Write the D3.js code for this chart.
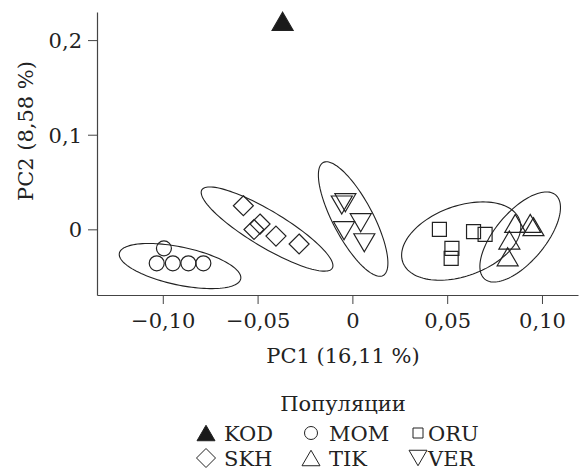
<!doctype html>
<html>
    <head>
        <meta charset="utf-8">
        <script src="https://cdn.jsdelivr.net/npm/d3@7"></script>
        <style>
            html, body {
                margin: 0;
                padding: 0;
                background: #fff;
            }
            #viz {
                position: absolute;
                top: 0px;
                left: 0px;
                width: 586px;
                height: 471px;
            }
            text {
                font-family: "DejaVu Serif", "Liberation Serif", serif;
                fill: #222;
            }
        </style>
    </head>
    <body>
        <div id="viz"></div>
        <script>
            // PCA scores
            var kodPC1 = [-0.0368];
            var kodPC2 = [0.2199];
            var momPC1 = [-0.0994, -0.1032, -0.0947, -0.0865, -0.0786];
            var momPC2 = [-0.0201, -0.0359, -0.0359, -0.0359, -0.0359];
            var oruPC1 = [0.0459, 0.0639, 0.0700, 0.0525, 0.0521];
            var oruPC2 = [0.0000, -0.0025, -0.0053, -0.0201, -0.0307];
            var skhPC1 = [-0.0575, -0.0487, -0.0519, -0.0403, -0.0281];
            var skhPC2 = [0.0249, 0.0056, -0.0002, -0.0071, -0.0155];
            var tikPC1 = [0.0859, 0.0938, 0.0955, 0.0828, 0.0819];
            var tikPC2 = [0.0063, 0.0063, 0.0028, -0.0113, -0.0290];
            var verPC1 = [-0.0037, -0.0056, 0.0044, -0.0044, 0.0063];
            var verPC2 = [0.0281, 0.0257, 0.0070, -0.0015, -0.0142];

            // confidence ellipses: centre + major / minor semi-axis vectors (data units)
            var ellipseGroups = ["MOM", "SKH", "VER", "ORU", "TIK"];
            var ellipseCenterPC1 = [-0.0909, -0.0450, 0.0004, 0.0574, 0.0885];
            var ellipseCenterPC2 = [-0.0388, 0.0003, 0.0109, -0.0124, -0.0081];
            var ellipseMajorPC1 = [0.0320, 0.0344, 0.0158, 0.0308, 0.0187];
            var ellipseMajorPC2 = [-0.0136, -0.0414, -0.0597, 0.0224, 0.0445];
            var ellipseMinorPC1 = [-0.0021, -0.0049, -0.0093, 0.0063, 0.0101];
            var ellipseMinorPC2 = [-0.0196, -0.0163, -0.0099, -0.0348, -0.0170];

            var xTicks = [-0.10, -0.05, 0, 0.05, 0.10];
            var xTickLabels = ["\u22120,10", "\u22120,05", "0", "0,05", "0,10"];
            var yTicks = [0, 0.1, 0.2];
            var yTickLabels = ["0", "0,1", "0,2"];
            var xTitle = "PC1 (16,11 %)";
            var yTitle = "PC2 (8,58 %)";
            var legendTitle = "Популяции";
            var populations = ["KOD", "MOM", "ORU", "SKH", "TIK", "VER"];

            var w = 586, h = 471;
            var fs = 21;
            var svg = d3.select("#viz").append("svg:svg")
                .attr("width", w)
                .attr("height", h);

            var x = d3.scaleLinear().domain([-0.1347, 0.119]).range([97, 578]);
            var y = d3.scaleLinear().domain([-0.0694, 0.2297]).range([295, 12]);

            // marker shapes (centred at 0,0)
            var shapes = {
                triUp: function (s) {
                    var hw = s / 2, hh = s * 0.43;
                    return "M0," + (-hh) + "L" + hw + "," + hh + "L" + (-hw) + "," + hh + "Z";
                },
                triDown: function (s) {
                    var hw = s / 2, hh = s * 0.43;
                    return "M0," + hh + "L" + hw + "," + (-hh) + "L" + (-hw) + "," + (-hh) + "Z";
                },
                diamond: function (s) {
                    var r = s / 2;
                    return "M0," + (-r) + "L" + r + ",0L0," + r + "L" + (-r) + ",0Z";
                },
                square: function (s) {
                    var r = s / 2;
                    return "M" + (-r) + "," + (-r) + "h" + s + "v" + s + "h" + (-s) + "Z";
                },
                circle: function (s) {
                    var r = s / 2;
                    return "M" + r + ",0A" + r + "," + r + " 0 1,1 " + (-r) + ",0A" + r + "," + r + " 0 1,1 " + r + ",0Z";
                }
            };

            var groups = [
                { name: "KOD", px: kodPC1, py: kodPC2, shape: "triUp", size: 21, filled: true },
                { name: "MOM", px: momPC1, py: momPC2, shape: "circle", size: 15, filled: false },
                { name: "ORU", px: oruPC1, py: oruPC2, shape: "square", size: 14, filled: false },
                { name: "SKH", px: skhPC1, py: skhPC2, shape: "diamond", size: 20, filled: false },
                { name: "TIK", px: tikPC1, py: tikPC2, shape: "triUp", size: 21, filled: false },
                { name: "VER", px: verPC1, py: verPC2, shape: "triDown", size: 21, filled: false }
            ];

            // ellipses
            var ellipseData = ellipseGroups.map(function (g, i) {
                var pts = [];
                for (var k = 0; k < 120; k++) {
                    var t = k / 120 * 2 * Math.PI;
                    pts.push([
                        ellipseCenterPC1[i] + Math.cos(t) * ellipseMajorPC1[i] + Math.sin(t) * ellipseMinorPC1[i],
                        ellipseCenterPC2[i] + Math.cos(t) * ellipseMajorPC2[i] + Math.sin(t) * ellipseMinorPC2[i]
                    ]);
                }
                return pts;
            });
            var line = d3.line()
                .x(function (d) { return x(d[0]); })
                .y(function (d) { return y(d[1]); })
                .curve(d3.curveLinearClosed);

            svg.append("g").selectAll("path")
                .data(ellipseData)
                .enter()
                .append("path")
                    .attr("d", line)
                    .attr("fill", "none")
                    .attr("stroke", "#222")
                    .attr("stroke-width", 1.1);

            // points
            groups.forEach(function (g) {
                var pts = g.px.map(function (v, i) { return [v, g.py[i]]; });
                svg.append("g").selectAll("path")
                    .data(pts)
                    .enter()
                    .append("path")
                        .attr("transform", function (d) {
                            return "translate(" + x(d[0]) + "," + y(d[1]) + ")";
                        })
                        .attr("d", shapes[g.shape](g.size))
                        .attr("fill", g.filled ? "#1a1a1a" : "none")
                        .attr("stroke", "#222")
                        .attr("stroke-width", 1.2);
            });

            // axes
            var xAxis = d3.axisBottom(x)
                .tickValues(xTicks)
                .tickFormat(function (d, i) { return xTickLabels[i]; })
                .tickSize(9)
                .tickSizeOuter(0);
            var yAxis = d3.axisLeft(y)
                .tickValues(yTicks)
                .tickFormat(function (d, i) { return yTickLabels[i]; })
                .tickSize(9)
                .tickSizeOuter(0);

            var gx = svg.append("g")
                .attr("transform", "translate(0," + y.range()[0] + ")")
                .call(xAxis);
            var gy = svg.append("g")
                .attr("transform", "translate(" + x.range()[0] + ",0)")
                .call(yAxis);

            [gx, gy].forEach(function (g) {
                g.select(".domain").attr("stroke", "#444").attr("stroke-width", 1.2);
                g.selectAll(".tick line").attr("stroke", "#444").attr("stroke-width", 1);
                g.selectAll(".tick text")
                    .attr("font-family", null)
                    .attr("font-size", fs)
                    .attr("fill", "#222");
            });
            gx.selectAll(".tick text").attr("y", 33).attr("dy", 0);
            gy.selectAll(".tick text").attr("x", -15).attr("dy", "0.36em");

            svg.append("text")
                .attr("x", 343)
                .attr("y", 363)
                .attr("text-anchor", "middle")
                .attr("font-size", fs)
                .text(xTitle);

            svg.append("text")
                .attr("transform", "translate(33,131) rotate(-90)")
                .attr("text-anchor", "middle")
                .attr("font-size", fs)
                .text(yTitle);

            // legend
            svg.append("text")
                .attr("x", 343)
                .attr("y", 411)
                .attr("text-anchor", "middle")
                .attr("font-size", fs)
                .text(legendTitle);

            var legendSymX = [206, 311, 418];
            var legendTextX = [224, 329, 428];
            var legendRowY = [433, 458];
            var legendSize = { triUp: 18, triDown: 18, diamond: 19, square: 10, circle: 13 };

            var leg = svg.append("g").selectAll("g")
                .data(groups)
                .enter()
                .append("g")
                    .attr("transform", function (d, i) {
                        return "translate(" + legendSymX[i % 3] + "," + legendRowY[Math.floor(i / 3)] + ")";
                    });
            leg.append("path")
                .attr("d", function (d) { return shapes[d.shape](legendSize[d.shape]); })
                .attr("fill", function (d) { return d.filled ? "#1a1a1a" : "none"; })
                .attr("stroke", "#222")
                .attr("stroke-width", 1);
            leg.append("text")
                .attr("x", function (d, i) { return legendTextX[i % 3] - legendSymX[i % 3]; })
                .attr("y", 8)
                .attr("font-size", fs)
                .text(function (d, i) { return populations[i]; });
        </script>
    </body>
</html>
